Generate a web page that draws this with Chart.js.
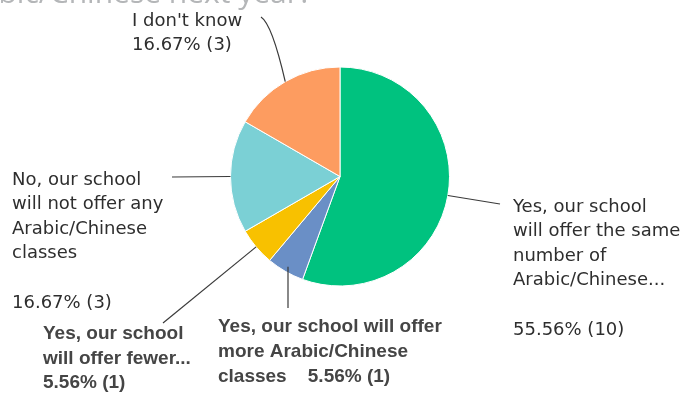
<!DOCTYPE html>
<html>
<head>
<meta charset="utf-8">
<script src="https://cdn.jsdelivr.net/npm/chart.js@4"></script>
<style>
  html, body { margin: 0; padding: 0; background: #fff; }
  #wrap { width: 684px; height: 393px; position: relative; }
</style>
</head>
<body>
<div id="wrap"><canvas id="pie" width="684" height="393"></canvas></div>
<script>
'use strict';

// Chart data.
const categories = [
  'Yes, our school will offer the same number of Arabic/Chinese...',
  'Yes, our school will offer more Arabic/Chinese classes',
  'Yes, our school will offer fewer...',
  'No, our school will not offer any Arabic/Chinese classes',
  'I don\'t know'
];
const responseCounts = [10, 1, 1, 3, 3];
const sliceColors = ['#00c27f', '#6a8fc6', '#f8c100', '#7bd0d5', '#fd9c60'];
const titleText = 'Arabic/Chinese next year?';

// Wrapped label lines as they appear around the pie ('%' gets replaced by the share).
const labelLines = [
  ['Yes, our school', 'will offer the same', 'number of', 'Arabic/Chinese...', '', '%'],
  ['Yes, our school will offer', 'more Arabic/Chinese', 'classes    %'],
  ['Yes, our school', 'will offer fewer...', '%'],
  ['No, our school', 'will not offer any', 'Arabic/Chinese', 'classes', '', '%'],
  ['I don\'t know', '%']
];

// Where each label block sits and where its leader line ends.
const labelBoxes = [
  { x: 513, y: 207, step: 24.6, end: [500, 204], bold: false },
  { x: 218, y: 327, step: 25, end: [288, 308], bold: true, vertical: true },
  { x: 43, y: 334, step: 24.6, end: [163, 323], bold: true },
  { x: 12, y: 180, step: 24.6, end: [172, 177], bold: false },
  { x: 132, y: 21, step: 24.6, end: [261, 17], bold: false, curve: [272, 24] }
];

const total = responseCounts.reduce((a, b) => a + b, 0);

function shareText(i) {
  return (responseCounts[i] / total * 100).toFixed(2) + '% (' + responseCounts[i] + ')';
}

const calloutPlugin = {
  id: 'callouts',
  afterDatasetsDraw(chart) {
    const ctx = chart.ctx;
    const arcs = chart.getDatasetMeta(0).data;
    ctx.save();

    // Cut-off title at the very top.
    ctx.font = '30px "Open Sans", sans-serif';
    ctx.fillStyle = '#b4b6b8';
    ctx.textAlign = 'right';
    ctx.textBaseline = 'alphabetic';
    ctx.fillText(titleText, 312, 3);

    arcs.forEach((arc, i) => {
      const box = labelBoxes[i];
      const mid = (arc.startAngle + arc.endAngle) / 2;
      let ex = arc.x + Math.cos(mid) * arc.outerRadius;
      let ey = arc.y + Math.sin(mid) * arc.outerRadius;
      if (box.vertical) {
        ex = box.end[0];
        ey = arc.y + Math.sqrt(arc.outerRadius * arc.outerRadius - (ex - arc.x) * (ex - arc.x)) - 6;
      }

      // Leader line.
      ctx.strokeStyle = '#3a3a3a';
      ctx.lineWidth = 1.2;
      ctx.beginPath();
      ctx.moveTo(ex, ey);
      if (box.curve) {
        ctx.quadraticCurveTo(box.curve[0], box.curve[1], box.end[0], box.end[1]);
      } else {
        ctx.lineTo(box.end[0], box.end[1]);
      }
      ctx.stroke();

      // Label text.
      ctx.font = box.bold ? 'bold 19px "Liberation Sans", Arial, sans-serif' : '18px "DejaVu Sans", sans-serif';
      ctx.fillStyle = box.bold ? '#454545' : '#2e2e2e';
      ctx.textAlign = 'left';
      ctx.textBaseline = 'middle';
      labelLines[i].forEach((line, j) => {
        const txt = line.replace('%', shareText(i));
        ctx.fillText(txt, box.x, box.y + j * box.step);
      });
    });
    ctx.restore();
  }
};

const config = {
  type: 'pie',
  data: {
    labels: categories,
    datasets: [{
      data: responseCounts,
      backgroundColor: sliceColors,
      borderColor: '#ffffff',
      borderWidth: 1
    }]
  },
  options: {
    responsive: false,
    animation: false,
    layout: {
      padding: { left: 230, right: 234, top: 66, bottom: 106 }
    },
    plugins: {
      legend: { display: false },
      title: { display: false },
      tooltip: { enabled: false }
    }
  },
  plugins: [calloutPlugin]
};

const pieChart = new Chart(document.getElementById('pie'), config);
</script>
</body>
</html>
